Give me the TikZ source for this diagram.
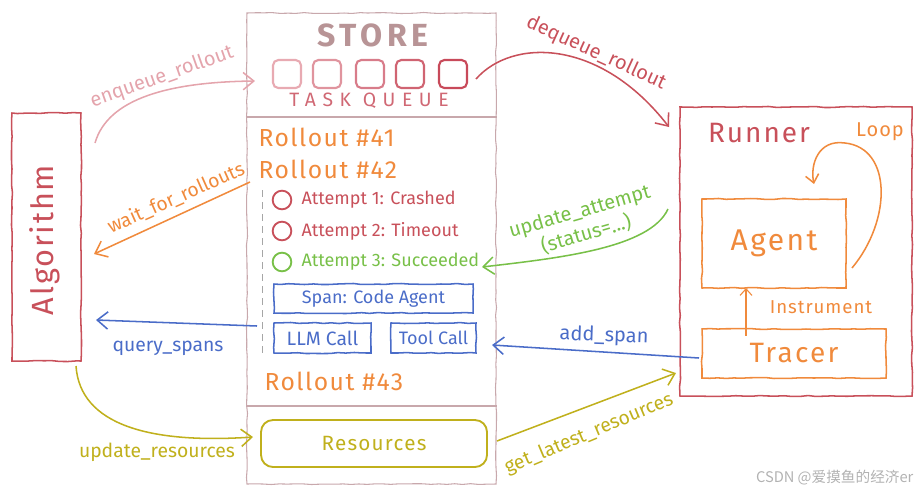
\documentclass[tikz,border=0pt]{standalone}
\usepackage{fontspec}
\setmainfont{Fira Sans}
\newfontfamily\cjkwm{Noto Sans CJK SC}
\usetikzlibrary{arrows.meta,decorations.pathmorphing}
\newcommand\hsz[1]{\fontsize{#1}{#1}\selectfont}
\definecolor{cstore}{HTML}{C8A8AC}
\definecolor{cstoretxt}{HTML}{B89496}
\definecolor{cred}{HTML}{C8505A}
\definecolor{cpink}{HTML}{E4A4AC}
\definecolor{cqueue}{HTML}{D06874}
\definecolor{corange}{HTML}{F08A3C}
\definecolor{cgreen}{HTML}{78C048}
\definecolor{cblue}{HTML}{4A6CC8}
\definecolor{colive}{HTML}{C0B01C}
\definecolor{cq1}{HTML}{E8AAB2}
\definecolor{cq2}{HTML}{E0949E}
\definecolor{cq3}{HTML}{D87C8A}
\definecolor{cq4}{HTML}{D06472}
\definecolor{cq5}{HTML}{C84A5A}
\tikzset{
  sketch/.style={decorate, decoration={random steps, segment length=6pt, amplitude=0.4pt}},
  box/.style={draw, line width=1.15pt, sketch, inner sep=0pt},
  qsq/.style={draw, line width=1.6pt, minimum width=21pt, minimum height=21pt, rounded corners=4pt, inner sep=0pt},
  att/.style={draw, circle, line width=1.4pt, minimum size=14pt, inner sep=0pt},
  lbl/.style={inner sep=1pt},
  conn/.style={line width=1.15pt, -{Straight Barb[length=8pt,width=13pt,line width=1.15pt]}},
}
\begin{document}
\begin{tikzpicture}[x=0.75pt,y=-0.75pt]
\useasboundingbox (0,0) rectangle (920,494);

% ---------- STORE ----------
\node[box, draw=cstore, line width=0.8pt, minimum width=186.75pt, minimum height=353.25pt] (store) at (371.5,248.5) {};
\draw[cstore, line width=0.8pt] (store.west |- 0,117) -- (store.east |- 0,117);
\draw[cstore, line width=0.8pt] (store.west |- 0,406) -- (store.east |- 0,406);
\node[lbl, text=cstoretxt] (storet) at (373,35) {\hsz{24}\bfseries\addfontfeatures{LetterSpace=14}STORE};
\node[qsq, draw=cq1] (q1) at (287,74) {};
\node[qsq, draw=cq2] (q2) at (327,74) {};
\node[qsq, draw=cq3] (q3) at (370,74) {};
\node[qsq, draw=cq4] (q4) at (410,74) {};
\node[qsq, draw=cq5] (q5) at (453,74) {};
\node[lbl, text=cqueue] (tq) at (369,101) {\hsz{14.5}\addfontfeatures{LetterSpace=34}TASK QUEUE};

\node[lbl, text=corange, anchor=west] (r41) at (257,137) {\hsz{18.5}\addfontfeatures{LetterSpace=6}Rollout \#41};
\node[lbl, text=corange, anchor=west] (r42) at (257,169) {\hsz{18.5}\addfontfeatures{LetterSpace=6}Rollout \#42};
\draw[gray!70, line width=0.6pt, dash pattern=on 5pt off 4pt] (262,190) -- (262,355);
\node[att, draw=cred] (a1) at (282,200) {};
\node[att, draw=cred] (a2) at (282,231) {};
\node[att, draw=cgreen] (a3) at (282,262) {};
\node[lbl, text=cred, anchor=west] (a1t) at (300,200) {\hsz{13.5}Attempt 1: Crashed};
\node[lbl, text=cred, anchor=west] (a2t) at (300,231) {\hsz{13.5}Attempt 2: Timeout};
\node[lbl, text=cgreen, anchor=west] (a3t) at (300,262) {\hsz{13.5}Attempt 3: Succeeded};
\node[box, draw=cblue, minimum width=149.25pt, minimum height=21.75pt, text=cblue] (span) at (373.5,298.5) {\hsz{13.5}Span: Code Agent};
\node[box, draw=cblue, minimum width=72.75pt, minimum height=22.5pt, text=cblue] (llm) at (322.5,338) {\hsz{14.5}LLM Call};
\node[box, draw=cblue, minimum width=63.75pt, minimum height=22.5pt, text=cblue] (tool) at (433.5,338) {\hsz{13.5}Tool Call};
\node[lbl, text=corange, anchor=west] (r43) at (263,381) {\hsz{18.5}\addfontfeatures{LetterSpace=6}Rollout \#43};
\node[draw=colive, line width=1.4pt, rounded corners=9pt, minimum width=169.5pt, minimum height=35.25pt, text=colive] (res) at (374,443.5) {\hsz{15.5}\addfontfeatures{LetterSpace=6}Resources};

% ---------- ALGORITHM ----------
\node[box, draw=cred, minimum width=51.75pt, minimum height=186pt] (alg) at (46.5,237) {};
\node[lbl, text=cred, rotate=90] (algt) at (45,240) {\hsz{23}\addfontfeatures{LetterSpace=6}Algorithm};

% ---------- RUNNER ----------
\node[box, draw=cred, minimum width=174pt, minimum height=216.75pt] (run) at (796,251.5) {};
\node[lbl, text=cred] (runt) at (759,133) {\hsz{21}\addfontfeatures{LetterSpace=7}Runner};
\node[lbl, text=corange] (loopt) at (880,132) {\hsz{15}\addfontfeatures{LetterSpace=5}Loop};
\node[box, draw=corange, minimum width=108pt, minimum height=66.75pt, text=corange] (agent) at (774,243.5) {\hsz{22.5}\addfontfeatures{LetterSpace=8}Agent};
\node[box, draw=corange, minimum width=138pt, minimum height=36.75pt, text=corange] (tracer) at (794,353.5) {\hsz{21}\addfontfeatures{LetterSpace=8}Tracer};
\coordinate (instS) at (746,335.5);
\coordinate (instE) at (746,288);
\draw[corange, line width=0.8pt, -{Straight Barb[length=5pt,width=9pt,line width=0.8pt]}] (instS) -- (instE);
\node[lbl, text=corange] (instt) at (821,307) {\hsz{14}\addfontfeatures{LetterSpace=5}Instrument};
\coordinate (loopS) at (852,268);
\coordinate (loopT) at (845,143);
\coordinate (loopE) at (814,184);
\draw[corange, line width=1.15pt, -{Straight Barb[length=6pt,width=10pt,line width=1.15pt]}] (loopS) .. controls (892,220) and (892,148) .. (loopT) .. controls (818,139) and (810,165) .. (loopE);

% ---------- CONNECTORS ----------
\coordinate (enqS) at (95,143);
\coordinate (enqE) at (255,81);
\draw[conn, cpink] (enqS) .. controls (108,98) and (170,82) .. (enqE);
\node[lbl, text=cpink, rotate=19.5] (enqt) at (162,77) {\hsz{15}enqueue\_rollout};

\coordinate (deqS) at (476,79);
\coordinate (deqE) at (669,127);
\draw[conn, cred] (deqS) .. controls (512,38) and (600,38) .. (deqE);
\node[lbl, text=cred, rotate=-24.5] (deqt) at (596,53) {\hsz{15}dequeue\_rollout};

\coordinate (waitS) at (250,182);
\coordinate (waitE) at (94,254);
\draw[conn, corange] (waitS) -- (waitE);
\node[lbl, text=corange, rotate=24] (waitt) at (176,198) {\hsz{14.5}wait\_for\_rollouts};

\coordinate (updS) at (668,209);
\coordinate (updE) at (482,267);
\draw[conn, cgreen] (updS) .. controls (650,248) and (560,258) .. (updE);
\node[lbl, text=cgreen, rotate=16, align=center] (updt) at (583,223) {\hsz{15}update\_attempt\\[1pt]\hsz{15}(status=...)};

\coordinate (qsS) at (257,326);
\coordinate (qsE) at (96,320);
\draw[conn, cblue] (qsS) -- (qsE);
\node[lbl, text=cblue] (qst) at (168,348) {\hsz{14.5}query\_spans};

\coordinate (asS) at (699,358);
\coordinate (asE) at (492,345);
\draw[conn, cblue] (asS) -- (asE);
\node[lbl, text=cblue, rotate=-2] (ast) at (604,336) {\hsz{15}add\_span};

\coordinate (urS) at (76,366);
\coordinate (urE) at (253,437);
\draw[conn, colive] (urS) .. controls (80,425) and (150,444) .. (urE);
\node[lbl, text=colive] (urt) at (157,452) {\hsz{14.5}update\_resources};

\coordinate (glS) at (497,441);
\coordinate (glE) at (676,373);
\draw[conn, colive] (glS) -- (glE);
\node[lbl, text=colive, rotate=22.8] (glt) at (589,434) {\hsz{14.5}get\_latest\_resources};

% watermark
\node[lbl, text=black!30, anchor=east] (wm) at (915,478) {\cjkwm\hsz{11}CSDN @爱摸鱼的经济er};
\end{tikzpicture}
\end{document}
